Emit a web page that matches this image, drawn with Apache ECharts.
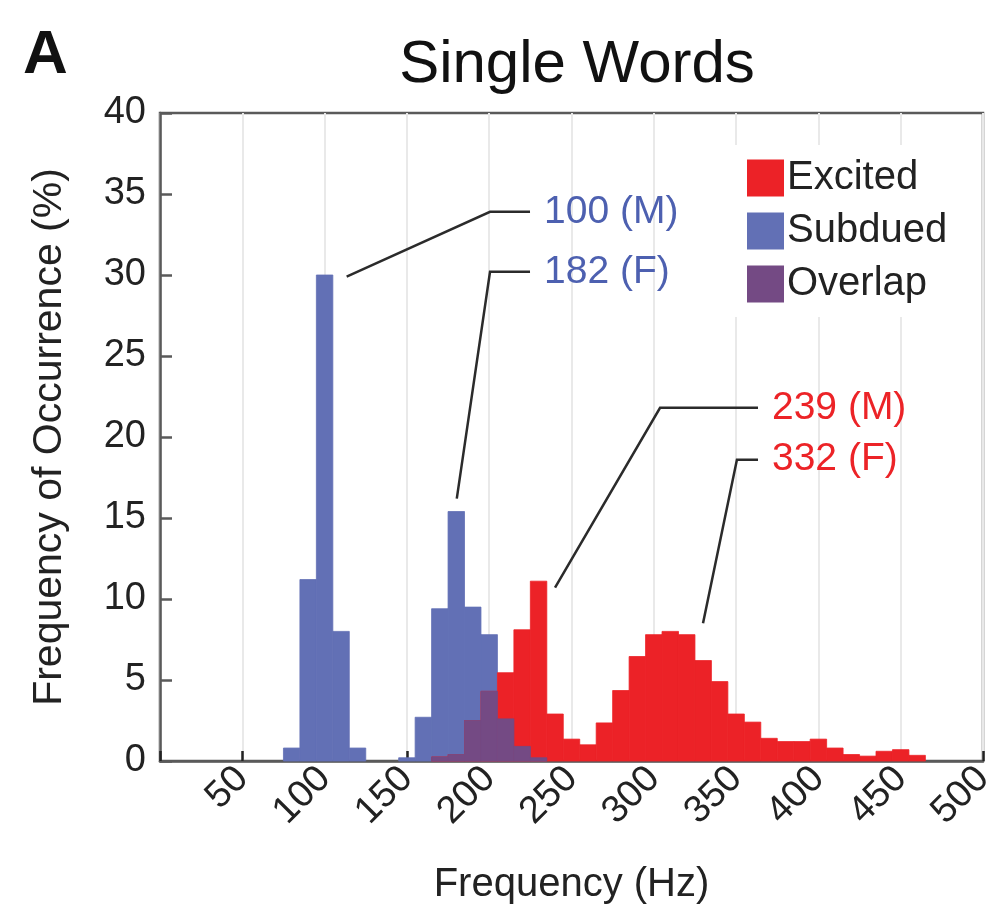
<!DOCTYPE html>
<html>
<head>
<meta charset="utf-8">
<title>Single Words</title>
<script src="https://cdn.jsdelivr.net/npm/echarts@6/dist/echarts.min.js"></script>
<style>
  html, body { margin: 0; padding: 0; background: #fff; }
  #chart { width: 990px; height: 907px; }
</style>
</head>
<body>
<div id="chart"></div>
<script>
// Histogram bins (Hz, bin centres) and the share of utterances in each bin (%)
const BIN_WIDTH = 10;
const binCenters = [70, 80, 90, 100, 110, 120, 130, 140, 150, 160,
                    170, 180, 190, 200, 210, 220, 230, 240, 250, 260,
                    270, 280, 290, 300, 310, 320, 330, 340, 350, 360,
                    370, 380, 390, 400, 410, 420, 430, 440, 450, 460, 470];
const excited  = [0, 0, 0, 0, 0, 0, 0, 0, 0, 0,
                  0.25, 0.4, 2.5, 4.3, 5.45, 8.1, 11.1, 2.9, 1.35, 1.0,
                  2.35, 4.35, 6.45, 7.8, 8.0, 7.8, 6.2, 4.9, 2.9, 2.4,
                  1.4, 1.2, 1.2, 1.35, 0.8, 0.4, 0.3, 0.6, 0.7, 0.35, 0];
const subdued  = [0, 0.8, 11.2, 30.0, 8.0, 0.8, 0, 0, 0.2, 2.7,
                  9.4, 15.4, 9.5, 7.8, 2.6, 0.9, 0.2, 0, 0, 0,
                  0, 0, 0, 0, 0, 0, 0, 0, 0, 0,
                  0, 0, 0, 0, 0, 0, 0, 0, 0, 0, 0];
const overlap  = [0, 0, 0, 0, 0, 0, 0, 0, 0, 0,
                  0.25, 0.4, 2.5, 4.3, 2.6, 0.9, 0.2, 0, 0, 0,
                  0, 0, 0, 0, 0, 0, 0, 0, 0, 0,
                  0, 0, 0, 0, 0, 0, 0, 0, 0, 0, 0];

// Axis ticks
const xTicks = [0, 50, 100, 150, 200, 250, 300, 350, 400, 450, 500];
const yTicks = [0, 5, 10, 15, 20, 25, 30, 35, 40];

// Callouts for the mean pitch of each group (data coordinates)
const calloutLabels = ['100 (M)', '182 (F)', '239 (M)', '332 (F)'];
const calloutTips   = [[113.4, 29.9], [180.3, 16.2], [240.0, 10.7], [329.9, 8.5]];
const calloutElbows = [[200.5, 33.9], [200.5, 30.2], [303.8, 21.8], [350.5, 18.6]];
const calloutEnds   = [224.8, 224.8, 363.3, 363.3];
const calloutColors = ['#4d60b0', '#4d60b0', '#ec2327', '#ec2327'];

const FONT = '"Liberation Sans", Arial, Helvetica, sans-serif';
const COLORS = { excited: '#ec2227', subdued: '#6270b5', overlap: '#744a84' };

function pairs(values) {
  return binCenters.map((c, i) => [c, values[i]]);
}

// One rectangle per bin, spanning the full bin width on the value axis
function renderBin(params, api) {
  const x = api.value(0);
  const y = api.value(1);
  if (!y) return null;
  const topLeft = api.coord([x - BIN_WIDTH / 2, y]);
  const bottomRight = api.coord([x + BIN_WIDTH / 2, 0]);
  const color = api.visual('color');
  return {
    type: 'rect',
    shape: {
      x: topLeft[0],
      y: topLeft[1],
      width: bottomRight[0] - topLeft[0],
      height: bottomRight[1] - topLeft[1]
    },
    style: { fill: color, stroke: color, lineWidth: 0.8 }
  };
}

function renderCallout(params, api) {
  const i = params.dataIndex;
  const tip = api.coord(calloutTips[i]);
  const elbow = api.coord(calloutElbows[i]);
  const end = api.coord([calloutEnds[i], calloutElbows[i][1]]);
  return {
    type: 'group',
    children: [
      {
        type: 'polyline',
        shape: { points: [tip, elbow, end] },
        style: { stroke: '#2b2b2b', lineWidth: 2.5, fill: null }
      },
      {
        type: 'text',
        x: end[0] + 14,
        y: end[1],
        style: {
          text: calloutLabels[i],
          fill: calloutColors[i],
          font: '39px ' + FONT,
          verticalAlign: 'middle',
          align: 'left'
        }
      }
    ]
  };
}

const chart = echarts.init(document.getElementById('chart'), null, { renderer: 'canvas' });

chart.setOption({
  animation: false,
  backgroundColor: '#ffffff',
  title: [
    {
      text: 'A',
      left: 18,
      top: 20,
      textStyle: { fontFamily: FONT, fontSize: 62, fontWeight: 'bold', color: '#111' }
    },
    {
      text: 'Single Words',
      left: 572,
      textAlign: 'center',
      top: 30,
      textStyle: { fontFamily: FONT, fontSize: 60, fontWeight: 'normal', color: '#111' }
    }
  ],
  legend: {
    data: ['Excited', 'Subdued', 'Overlap'],
    orient: 'vertical',
    left: 732,
    top: 145,
    padding: [13, 14, 13, 15],
    backgroundColor: '#ffffff',
    icon: 'rect',
    itemWidth: 37,
    itemHeight: 37,
    itemGap: 13,
    selectedMode: false,
    textStyle: { fontFamily: FONT, fontSize: 40, color: '#222', lineHeight: 37, padding: [0, 0, 0, -2] }
  },
  grid: {
    left: 160,
    right: 7,
    top: 113,
    bottom: 146,
    outerBoundsMode: 'none',
    containLabel: false,
    show: true,
    borderColor: '#5a5a5a',
    borderWidth: 2.5,
    backgroundColor: 'transparent'
  },
  xAxis: {
    type: 'value',
    min: xTicks[0],
    max: xTicks[xTicks.length - 1],
    interval: xTicks[1] - xTicks[0],
    name: 'Frequency (Hz)',
    nameLocation: 'middle',
    nameGap: 104,
    nameTextStyle: { fontFamily: FONT, fontSize: 40, color: '#222' },
    axisLine: { show: true, lineStyle: { color: '#5a5a5a', width: 2.5 } },
    axisTick: { show: true, inside: true, length: 10, lineStyle: { color: '#222', width: 2.5 } },
    axisLabel: {
      rotate: 45,
      margin: 12,
      fontFamily: FONT,
      fontSize: 38,
      color: '#222',
      formatter: v => (v === 0 ? '' : String(v))
    },
    splitLine: { show: true, lineStyle: { color: '#e9e9e9', width: 2 } }
  },
  yAxis: {
    type: 'value',
    min: yTicks[0],
    max: yTicks[yTicks.length - 1],
    interval: yTicks[1] - yTicks[0],
    name: 'Frequency of Occurrence (%)',
    nameLocation: 'middle',
    nameGap: 90,
    nameTextStyle: { fontFamily: FONT, fontSize: 41, color: '#222' },
    axisLine: { show: true, lineStyle: { color: '#5a5a5a', width: 2.5 } },
    axisTick: { show: true, inside: true, length: 12, lineStyle: { color: '#5a5a5a', width: 2.5 } },
    axisLabel: { margin: 14, fontFamily: FONT, fontSize: 38, color: '#222' },
    splitLine: { show: false }
  },
  series: [
    {
      name: 'Subdued',
      type: 'custom',
      renderItem: renderBin,
      itemStyle: { color: COLORS.subdued },
      encode: { x: 0, y: 1 },
      data: pairs(subdued),
      z: 2
    },
    {
      name: 'Excited',
      type: 'custom',
      renderItem: renderBin,
      itemStyle: { color: COLORS.excited },
      encode: { x: 0, y: 1 },
      data: pairs(excited),
      z: 3
    },
    {
      name: 'Overlap',
      type: 'custom',
      renderItem: renderBin,
      itemStyle: { color: COLORS.overlap },
      encode: { x: 0, y: 1 },
      data: pairs(overlap),
      z: 4
    },
    {
      name: 'callouts',
      type: 'custom',
      renderItem: renderCallout,
      silent: true,
      encode: { x: 0, y: 1 },
      data: calloutTips,
      z: 5
    }
  ]
});
</script>
</body>
</html>
